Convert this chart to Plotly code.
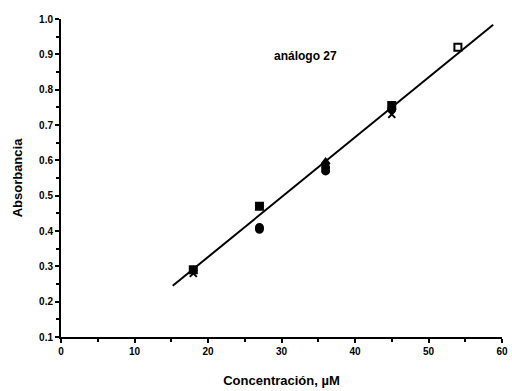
import plotly.graph_objects as go

# data
conc = [18, 18, 27, 27, 27, 36, 36, 36, 45, 45, 45, 54]
absorb = [0.29, 0.28, 0.47, 0.41, 0.405, 0.595, 0.58, 0.57, 0.755, 0.745, 0.73, 0.92]
symbols = ["square", "x-thin", "square", "circle", "circle", "triangle-up", "circle", "circle",
           "square", "circle", "x-thin", "square-open"]
fit_x = [15.2, 58.8]
slope = 0.01695
intercept = -0.0127
fit_y = [slope * v + intercept for v in fit_x]

fig = go.Figure()
fig.add_trace(go.Scatter(x=fit_x, y=fit_y, mode="lines",
                         line=dict(color="black", width=2), showlegend=False))
fig.add_trace(go.Scatter(x=conc, y=absorb, mode="markers",
                         marker=dict(symbol=symbols, size=7, color="black",
                                     line=dict(color="black", width=2)),
                         showlegend=False))
fig.add_annotation(x=33.2, y=0.895, text="análogo 27", showarrow=False,
                   font=dict(family="Liberation Sans", size=12, color="black", weight="bold"))

font_ticks = dict(family="Liberation Sans", size=10, color="black", weight="bold")
fig.update_layout(
    width=512, height=391,
    margin=dict(l=61, r=10, t=19, b=54),
    plot_bgcolor="white", paper_bgcolor="white",
    xaxis=dict(range=[0, 60], tickvals=[0, 10, 20, 30, 40, 50, 60], automargin=False,
               ticks="outside", ticklen=4, tickwidth=1.5, tickcolor="black",
               minor=dict(tickvals=[5, 15, 25, 35, 45, 55], ticks="outside", ticklen=3, tickcolor="black"),
               showline=True, linecolor="black", linewidth=2, showgrid=False, zeroline=False,
               tickfont=font_ticks,
               title=dict(text="Concentración, µM", standoff=20,
                          font=dict(family="Liberation Sans", size=13, color="black", weight="bold"))),
    yaxis=dict(range=[0.1, 1.0], tickvals=[0.1, 0.2, 0.3, 0.4, 0.5, 0.6, 0.7, 0.8, 0.9, 1.0],
               ticktext=["0.1", "0.2", "0.3", "0.4", "0.5", "0.6", "0.7", "0.8", "0.9", "1.0"],
               automargin=False,
               ticks="outside", ticklen=4, tickwidth=1.5, tickcolor="black",
               minor=dict(tickvals=[0.15, 0.25, 0.35, 0.45, 0.55, 0.65, 0.75, 0.85, 0.95],
                          ticks="outside", ticklen=3, tickcolor="black"),
               showline=True, linecolor="black", linewidth=2, showgrid=False, zeroline=False,
               tickfont=font_ticks,
               title=dict(text="Absorbancia", standoff=14,
                          font=dict(family="Liberation Sans", size=13, color="black", weight="bold"))),
)
fig.write_html("out.html", config={"displayModeBar": False},
               post_script="document.body.style.margin='0';")
